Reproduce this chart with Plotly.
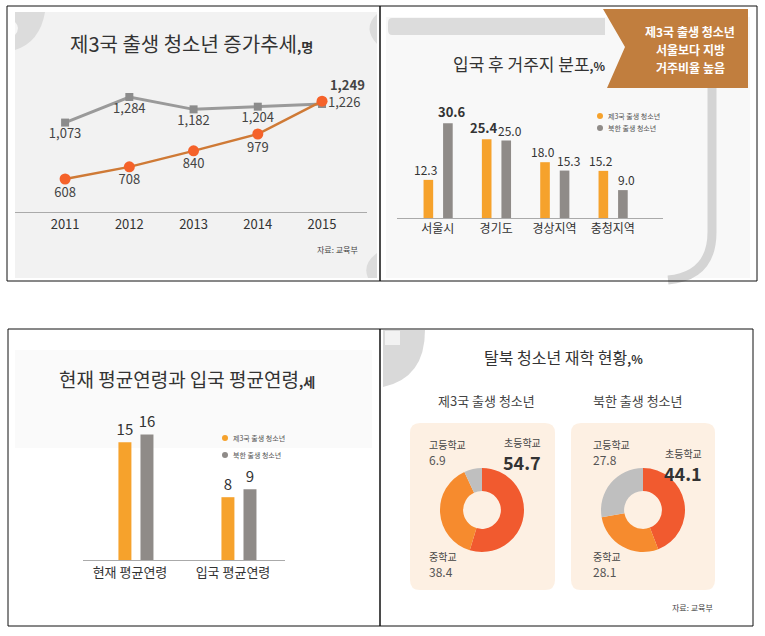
import plotly.graph_objects as go

W, H = 765, 636
FONT = "Noto Sans CJK KR"

# panel 1: 제3국 출생 청소년 증가추세
years = [2011, 2012, 2013, 2014, 2015]
third_country = [608, 708, 840, 979, 1249]
north_korea = [1073, 1284, 1182, 1204, 1226]

# panel 2: 입국 후 거주지 분포
regions = ["서울시", "경기도", "경상지역", "충청지역"]
region_third = [12.3, 25.4, 18.0, 15.2]
region_nk = [30.6, 25.0, 15.3, 9.0]

# panel 3: 평균연령
age_groups = ["현재 평균연령", "입국 평균연령"]
age_third = [15, 8]
age_nk = [16, 9]

# panel 4: 재학 현황
schools = ["초등학교", "중학교", "고등학교"]
school_third = [54.7, 38.4, 6.9]
school_nk = [44.1, 28.1, 27.8]

ORANGE = "#f6a22c"
GRAY = "#8f8b88"


# pixel -> paper coordinates
def px(x):
    return x / W


def py(y):
    return 1 - y / H


fig = go.Figure()

# --- line chart
fig.add_trace(go.Scatter(
    x=years, y=north_korea, mode="lines+markers+text",
    line=dict(color="#9a9a9a", width=3),
    marker=dict(symbol="square", size=8, color="#8c8c8c"),
    text=[f"{v:,}" for v in north_korea],
    textposition=["bottom center"] * 4 + ["middle right"],
    textfont=dict(family=FONT, size=13, color="#444444"),
    cliponaxis=False, xaxis="x", yaxis="y", showlegend=False,
))
fig.add_trace(go.Scatter(
    x=years, y=third_country, mode="lines+markers+text",
    line=dict(color="#cf7a36", width=2.5),
    marker=dict(symbol="circle", size=11, color="#f5622a"),
    text=[f"{v:,}" for v in third_country[:-1]] + [f"<b>{third_country[-1]:,}</b>"],
    textposition=["bottom center"] * 4 + ["top right"],
    textfont=dict(family=FONT, size=13, color="#444444"),
    cliponaxis=False, xaxis="x", yaxis="y", showlegend=False,
))

# --- region bars (labels are added as annotations further down)
fig.add_trace(go.Bar(
    x=regions, y=region_third, marker=dict(color=ORANGE, line=dict(width=0)),
    width=0.165, offset=-0.245, xaxis="x2", yaxis="y2", showlegend=False,
))
fig.add_trace(go.Bar(
    x=regions, y=region_nk, marker=dict(color=GRAY, line=dict(width=0)),
    width=0.165, offset=0.09, xaxis="x2", yaxis="y2", showlegend=False,
))

# --- age bars
fig.add_trace(go.Bar(
    x=age_groups, y=age_third, marker=dict(color=ORANGE, line=dict(width=0)),
    width=0.126, offset=-0.112, text=[str(v) for v in age_third],
    textposition="outside", constraintext="none", cliponaxis=False,
    textfont=dict(family=FONT, size=15, color="#333333"),
    xaxis="x3", yaxis="y3", showlegend=False,
))
fig.add_trace(go.Bar(
    x=age_groups, y=age_nk, marker=dict(color=GRAY, line=dict(width=0)),
    width=0.126, offset=0.102, text=[str(v) for v in age_nk],
    textposition="outside", constraintext="none", cliponaxis=False,
    textfont=dict(family=FONT, size=15, color="#333333"),
    xaxis="x3", yaxis="y3", showlegend=False,
))

# --- donuts
pie_colors = ["#f15a2f", "#f68b2e", "#bfbfbf"]
for vals, cx in [(school_third, 482), (school_nk, 643)]:
    fig.add_trace(go.Pie(
        values=vals, labels=schools, hole=0.45, sort=False,
        direction="clockwise", rotation=0, textinfo="none",
        marker=dict(colors=pie_colors, line=dict(width=0)),
        domain=dict(x=[px(cx - 42), px(cx + 42)], y=[py(552), py(468)]),
        showlegend=False,
    ))


def rect(x0, x1, y0, y1, fill, below=True, line=None):
    return dict(type="rect", xref="paper", yref="paper",
                x0=px(x0), x1=px(x1), y0=py(y1), y1=py(y0),
                fillcolor=fill, line=line or dict(width=0),
                layer="below" if below else "above")


def path(d, fill=None, line=None, below=True):
    pts = []
    for tok in d.split():
        if "," in tok:
            a, b = tok.split(",")
            pts.append(f"{px(float(a))},{py(float(b))}")
        else:
            pts.append(tok)
    s = dict(type="path", xref="paper", yref="paper", path=" ".join(pts),
             line=line or dict(width=0), layer="below" if below else "above")
    if fill:
        s["fillcolor"] = fill
    return s


shapes = [
    # panel 1 background and corner decorations
    rect(15, 377, 12, 278, "#f2f2f2"),
    path("M 15,12 L 45,12 Q 40,42 15,50 Z", "#dcdcdc"),
    path("M 15,22 Q 21,28 15,35 Z", "#f7f7f7"),
    path("M 377,14 Q 362,28 377,44 Z", "#dcdcdc"),
    path("M 377,253 Q 362,264 368,278 L 377,278 Z", "#dcdcdc"),
    # panel 2 background, top band, side band, banner
    rect(386, 750, 17, 278, "#f8f8f8"),
    path("M 392,18 L 605,18 L 605,35 L 392,35 Q 388,35 388,30 L 388,23 Q 388,18 392,18 Z", "#dcdcdc"),
    path("M 712,88 L 712,232 Q 712,276 668,280", line=dict(color="#d4d4d4", width=9)),
    path("M 603,9 L 748,9 L 748,88 L 607,88 L 625,47 Z", "#c17e3e", below=False),
    # panel 3 title band
    rect(15, 372, 350, 448, "#fafafa"),
    # panel 4 corner decoration
    path("M 383,330 L 425,330 Q 425,378 383,387 Z", "#d9d9d9"),
    path("M 385,331 L 400,331 L 400,345 L 385,345 Z", "#f2f2f2"),
]
for x0, x1 in [(410, 555), (571, 715)]:
    y0, y1, r = 423, 590, 10
    shapes.append(path(
        f"M {x0 + r},{y0} L {x1 - r},{y0} Q {x1},{y0} {x1},{y0 + r} "
        f"L {x1},{y1 - r} Q {x1},{y1} {x1 - r},{y1} "
        f"L {x0 + r},{y1} Q {x0},{y1} {x0},{y1 - r} "
        f"L {x0},{y0 + r} Q {x0},{y0} {x0 + r},{y0} Z", "#fdf0e3"))
# frames
for x0, x1, y0, y1 in [(7, 380, 6, 281), (380, 757, 6, 281), (8, 380, 329, 626), (380, 753, 329, 626)]:
    shapes.append(rect(x0, x1, y0, y1, "rgba(0,0,0,0)", below=False,
                       line=dict(color="#111111", width=1)))
# legend dots
for x, y, c in [(600, 116, ORANGE), (600, 128, GRAY), (225, 438, ORANGE), (225, 455, GRAY)]:
    shapes.append(dict(type="circle", xref="paper", yref="paper",
                       x0=px(x - 3), x1=px(x + 3), y0=py(y + 3), y1=py(y - 3),
                       fillcolor=c, line=dict(width=0)))


def note(x, y, text, size, color="#333333", anchor="center"):
    return dict(x=px(x), y=py(y), xref="paper", yref="paper", text=text, showarrow=False,
                xanchor=anchor, yanchor="middle",
                font=dict(family=FONT, size=size, color=color))


annotations = [
    note(191, 43, "제3국 출생 청소년 증가추세<span style='font-size:13px'><b>,명</b></span>", 20),
    note(337, 249, "자료: 교육부", 8, "#444444"),
    note(529, 63, "입국 후 거주지 분포<span style='font-size:12px'><b>,%</b></span>", 17),
    note(690, 32, "<b>제3국 출생 청소년</b>", 12, "white"),
    note(690, 50, "<b>서울보다 지방</b>", 12, "white"),
    note(690, 68, "<b>거주비율 높음</b>", 12, "white"),
    note(606, 116, "제3국 출생 청소년", 7, "#555555", "left"),
    note(606, 128, "북한 출생 청소년", 7, "#555555", "left"),
    note(187, 378, "현재 평균연령과 입국 평균연령<span style='font-size:13px'><b>,세</b></span>", 19),
    note(231, 438, "제3국 출생 청소년", 7, "#555555", "left"),
    note(231, 455, "북한 출생 청소년", 7, "#555555", "left"),
    note(563, 357, "탈북 청소년 재학 현황<span style='font-size:12px'><b>,%</b></span>", 16),
    note(487, 400, "제3국 출생 청소년", 13, "#444444"),
    note(638, 400, "북한 출생 청소년", 13, "#444444"),
    note(692, 607, "자료: 교육부", 8, "#444444"),
]

# region bar value labels, placed on the bar axes
bold_regions = {("third", "경기도"), ("nk", "서울시")}
for key, vals, shift in [("third", region_third, -12), ("nk", region_nk, 14)]:
    for r, v in zip(regions, vals):
        bold = (key, r) in bold_regions
        annotations.append(dict(
            x=r, y=v, xref="x2", yref="y2", showarrow=False,
            text=f"<b>{v:.1f}</b>" if bold else f"{v:.1f}",
            xanchor="center", yanchor="bottom", xshift=shift, yshift=0,
            font=dict(family=FONT, size=13 if bold else 12, color="#333333"),
        ))

# donut labels
for vals, xl, xr, yr in [(school_third, 427, 522, 444), (school_nk, 591, 683, 455)]:
    annotations += [
        note(xl, 444, schools[2], 10, "#444444", "left"),
        note(xl, 459, f"{vals[2]}", 12, "#555555", "left"),
        note(xr, yr - 2, schools[0], 10, "#444444"),
        note(xr, yr + 18, f"<b>{vals[0]}</b>", 18, "#333333"),
        note(xl, 556, schools[1], 10, "#444444", "left"),
        note(xl, 571, f"{vals[1]}", 12, "#555555", "left"),
    ]

hidden = dict(visible=False, showgrid=False, zeroline=False)
fig.update_layout(
    width=W, height=H, autosize=False,
    margin=dict(l=0, r=0, t=0, b=0),
    paper_bgcolor="white", plot_bgcolor="rgba(0,0,0,0)",
    font=dict(family=FONT, color="#333333"),
    barmode="overlay",
    xaxis=dict(domain=[px(15), px(367)], range=[2010.22, 2015.70], tickvals=years,
               showline=True, linecolor="#aaaaaa", showgrid=False, zeroline=False,
               ticks="", tickfont=dict(family=FONT, size=13, color="#333333"), anchor="y"),
    yaxis=dict(domain=[py(212), py(80)], range=[336, 1424], anchor="x", **hidden),
    xaxis2=dict(domain=[px(397), px(663)], range=[-0.70, 3.86], type="category",
                showline=True, linecolor="#aaaaaa", showgrid=False, zeroline=False,
                ticks="", tickfont=dict(family=FONT, size=12, color="#333333"), anchor="y2"),
    yaxis2=dict(domain=[py(218), py(94)], range=[0, 40], anchor="x2", **hidden),
    xaxis3=dict(domain=[px(83), px(285)], range=[-0.456, 1.505], type="category",
                showline=True, linecolor="#aaaaaa", showgrid=False, zeroline=False,
                ticks="", tickfont=dict(family=FONT, size=13, color="#333333"), anchor="y3"),
    yaxis3=dict(domain=[py(560), py(403)], range=[0, 20], anchor="x3", **hidden),
    shapes=shapes,
    annotations=annotations,
)

# drop the default page margin so the figure sits at the window's corner
fig.write_html("out.html", config={"displayModeBar": False},
               post_script="document.body.style.margin='0';")
